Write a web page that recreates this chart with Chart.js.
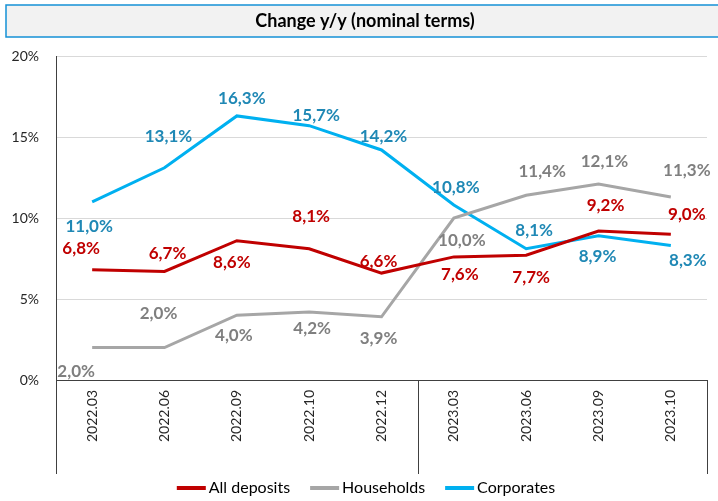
<!DOCTYPE html>
<html>
<head>
<meta charset="utf-8">
<script src="https://cdn.jsdelivr.net/npm/chart.js@4.4.0/dist/chart.umd.min.js"></script>
<style>
    html, body { margin: 0; padding: 0; background: #fff; }
    canvas { display: block; }
</style>
</head>
<body>
<canvas id="depositsChart" width="718" height="501"></canvas>
<script>
// Dados do gráfico
const categories = ['2022.03', '2022.06', '2022.09', '2022.10', '2022.12', '2023.03', '2023.06', '2023.09', '2023.10'];
const allDeposits = [6.8, 6.7, 8.6, 8.1, 6.6, 7.6, 7.7, 9.2, 9.0];
const households = [2.0, 2.0, 4.0, 4.2, 3.9, 10.0, 11.4, 12.1, 11.3];
const corporates = [11.0, 13.1, 16.3, 15.7, 14.2, 10.8, 8.1, 8.9, 8.3];
const yTicks = [0, 5, 10, 15, 20];
const chartTitle = 'Change y/y (nominal terms)';

// Deslocamento dos rótulos (em pixels) em relação a cada ponto
const labelOffsets = [
    { dx: [-11, 3, -5, 2, -3, 6, 5, 7, 16], dy: [-21, -18, 22, -32, -12, 18, 22, -25, -20] },
    { dx: [-16, -6, -3, 3, -3, 8, 16, 6, 16], dy: [24, -34, 20, 17, 22, 23, -24, -22, -26] },
    { dx: [-3, 4, 5, 7, 2, 2, 8, -1, 17], dy: [25, -31, -17, -10, -13, -18, -18, 21, 15] }
];

Chart.defaults.font.family = 'Lato, "Liberation Sans", sans-serif';
Chart.defaults.color = '#262626';

// Caixa do título no topo
const titleBox = {
    id: 'titleBox',
    beforeDraw(chart) {
        const c = chart.ctx;
        c.save();
        c.fillStyle = '#F2F2F2';
        c.fillRect(6, 5, 718, 32);
        c.strokeStyle = '#1591D6';
        c.lineWidth = 1.5;
        c.strokeRect(6, 5, 718, 32);
        c.fillStyle = '#000';
        c.font = 'bold 18px Lato, sans-serif';
        c.textAlign = 'center';
        c.textBaseline = 'middle';
        c.fillText(chartTitle, 365, 21);
        c.restore();
    }
};

// Linhas verticais na área das categorias
const axisBox = {
    id: 'axisBox',
    afterDraw(chart) {
        const c = chart.ctx;
        const x = chart.scales.x;
        const area = chart.chartArea;
        const xs = [area.left, x.getPixelForValue(4.5), area.right];
        c.save();
        c.strokeStyle = '#404040';
        c.lineWidth = 1;
        xs.forEach(px => {
            c.beginPath();
            c.moveTo(Math.round(px) + 0.5, area.bottom);
            c.lineTo(Math.round(px) + 0.5, x.bottom);
            c.stroke();
        });
        c.restore();
    }
};

// Rótulos de valores em cada ponto
const pointLabels = {
    id: 'pointLabels',
    afterDraw(chart) {
        const c = chart.ctx;
        c.save();
        c.font = 'bold 17px Lato, sans-serif';
        c.textAlign = 'center';
        c.textBaseline = 'middle';
        chart.data.datasets.forEach((ds, i) => {
            const meta = chart.getDatasetMeta(i);
            c.fillStyle = ds.labelColor;
            meta.data.forEach((pt, j) => {
                const txt = ds.data[j].toFixed(1).replace('.', ',') + '%';
                c.fillText(txt, pt.x + labelOffsets[i].dx[j], pt.y + labelOffsets[i].dy[j]);
            });
        });
        c.restore();
    }
};

// Legenda desenhada à mão
const bottomLegend = {
    id: 'bottomLegend',
    afterDraw(chart) {
        const c = chart.ctx;
        const sw = 29, gap = 3, space = 20;
        c.save();
        c.font = '16px Lato, sans-serif';
        c.textBaseline = 'middle';
        const items = chart.data.datasets.map(ds => ({ ds, w: sw + gap + c.measureText(ds.label).width }));
        const total = items.reduce((s, it) => s + it.w, 0) + space * (items.length - 1);
        let x = 366 - total / 2;
        const y = 488;
        items.forEach(it => {
            c.fillStyle = it.ds.borderColor;
            c.fillRect(x, y - 2, sw, 4);
            c.fillStyle = '#000';
            c.fillText(it.ds.label, x + sw + gap, y);
            x += it.w + space;
        });
        c.restore();
    }
};

const ctx = document.getElementById('depositsChart').getContext('2d');
new Chart(ctx, {
    type: 'line',
    data: {
        labels: categories,
        datasets: [
            { label: 'All deposits', data: allDeposits, borderColor: '#C00000', backgroundColor: '#C00000', labelColor: '#C00000' },
            { label: 'Households', data: households, borderColor: '#A6A6A6', backgroundColor: '#A6A6A6', labelColor: '#7F7F7F' },
            { label: 'Corporates', data: corporates, borderColor: '#00B0F0', backgroundColor: '#00B0F0', labelColor: '#1F88B5' }
        ]
    },
    options: {
        responsive: false,
        animation: false,
        devicePixelRatio: 1,
        elements: {
            line: { borderWidth: 3, tension: 0 },
            point: { radius: 0, hoverRadius: 0 }
        },
        layout: { padding: { top: 56, right: 11, left: 0, bottom: 27 } },
        plugins: {
            legend: { display: false },
            tooltip: { enabled: false }
        },
        scales: {
            x: {
                offset: true,
                grid: { display: false, drawTicks: false },
                border: { display: true, color: '#404040', width: 1 },
                ticks: {
                    autoSkip: false,
                    minRotation: 90,
                    maxRotation: 90,
                    padding: 10,
                    font: { size: 14 },
                    color: '#262626'
                },
                afterFit(scale) { scale.height = 94; }
            },
            y: {
                min: 0,
                max: 20,
                afterBuildTicks(scale) { scale.ticks = yTicks.map(v => ({ value: v })); },
                grid: { color: '#D9D9D9', lineWidth: 1, drawTicks: false },
                border: { display: true, color: '#404040', width: 1 },
                ticks: {
                    padding: 17,
                    font: { size: 14 },
                    color: '#262626',
                    callback: v => v + '%'
                },
                afterFit(scale) { scale.width = 56; }
            }
        }
    },
    plugins: [titleBox, axisBox, pointLabels, bottomLegend]
});
</script>
</body>
</html>
